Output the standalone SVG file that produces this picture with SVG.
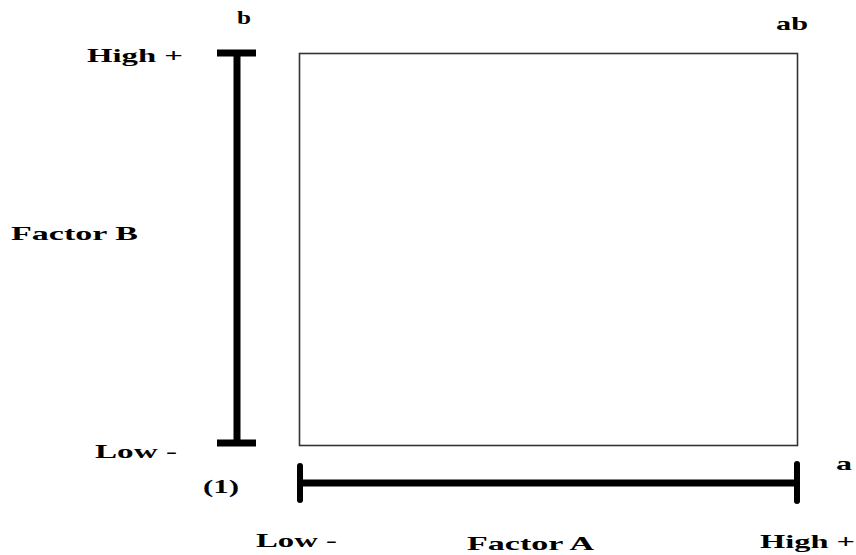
<svg xmlns="http://www.w3.org/2000/svg" width="856" height="555" viewBox="0 0 856 555">
<style>
text{font-family:"Liberation Serif","DejaVu Serif",serif;font-weight:700;font-size:19px;fill:#000}
.bar{stroke:#000;stroke-width:7;fill:none}
.cap{stroke:#000;stroke-width:6;fill:none;stroke-linecap:round}
</style>
<rect width="856" height="555" fill="#fff"/>
<g id="square">
<rect x="299.5" y="53.5" width="498" height="392" fill="none" stroke="#333" stroke-width="1.6"/>
</g>
<g id="connectors">
<line class="bar" x1="237" y1="53" x2="237" y2="443"/>
<line class="bar" x1="217" y1="53" x2="256" y2="53"/>
<line class="bar" x1="217" y1="443" x2="256" y2="443"/>
<line class="bar" x1="300" y1="483" x2="797" y2="483"/>
<line class="cap" x1="300" y1="466" x2="300" y2="500"/>
<line class="cap" x1="797" y1="464" x2="797" y2="501"/>
</g>
<g id="labels">
<text x="237" y="24" textLength="14" lengthAdjust="spacingAndGlyphs">b</text>
<text x="776" y="30" textLength="32" lengthAdjust="spacingAndGlyphs">ab</text>
<text x="87" y="62" textLength="96" lengthAdjust="spacingAndGlyphs">High +</text>
<text x="11" y="240" textLength="127" lengthAdjust="spacingAndGlyphs">Factor B</text>
<text x="95" y="458" textLength="82" lengthAdjust="spacingAndGlyphs">Low -</text>
<text x="203" y="493" textLength="36" lengthAdjust="spacingAndGlyphs">(1)</text>
<text x="836" y="470" textLength="16" lengthAdjust="spacingAndGlyphs">a</text>
<text x="256" y="547" textLength="81" lengthAdjust="spacingAndGlyphs">Low -</text>
<text x="467" y="550" textLength="127" lengthAdjust="spacingAndGlyphs">Factor A</text>
<text x="760" y="548" textLength="95" lengthAdjust="spacingAndGlyphs">High +</text>
</g>
</svg>
